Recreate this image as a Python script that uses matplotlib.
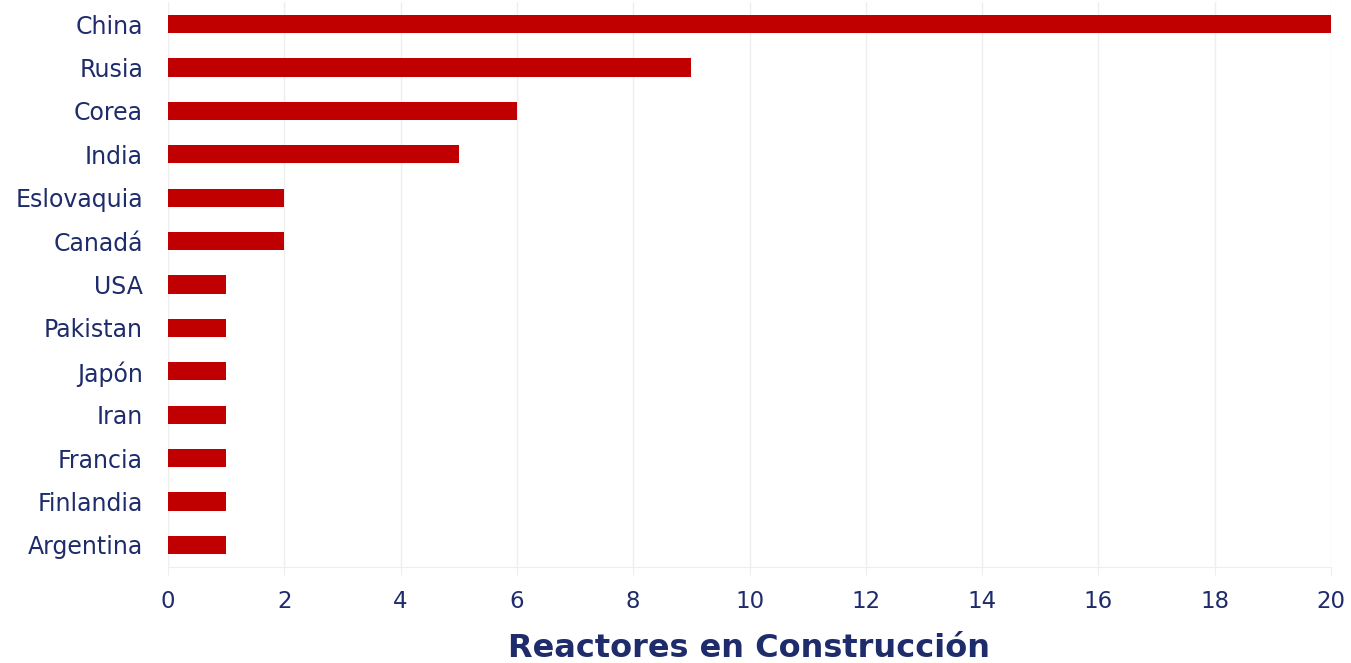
import matplotlib
matplotlib.use("Agg")
import matplotlib.pyplot as plt

countries = ["China", "Rusia", "Corea", "India", "Eslovaquia", "Canadá", "USA",
             "Pakistan", "Japón", "Iran", "Francia", "Finlandia", "Argentina"]
reactors = [20, 9, 6, 5, 2, 2, 1, 1, 1, 1, 1, 1, 1]
xticks = [0, 2, 4, 6, 8, 10, 12, 14, 16, 18, 20]

plt.rcParams['font.family'] = ['DejaVu Sans']
navy = "#1e2c6b"
red = "#c00000"

fig = plt.figure(figsize=(13.51, 6.63), dpi=100)
ax = fig.add_axes([168/1351, 1-566.7/663, (1331-168)/1351, (566.7-2.3)/663])

ypos = list(range(len(countries)))[::-1]
ax.barh(ypos, reactors, height=0.42, color=red, zorder=3)
ax.set_xlim(0, 20)
ax.set_ylim(-0.5, len(countries)-0.5)
ax.set_yticks(ypos)
ax.set_yticklabels(countries, fontsize=17, color=navy)
ax.set_xticks(xticks)
ax.set_xticklabels([str(t) for t in xticks], fontsize=16.5, color=navy)
ax.tick_params(axis='y', length=0, pad=18)
ax.tick_params(axis='x', length=6, color="#eeeeee", pad=11)
ax.grid(axis='x', color="#eeeeee", linewidth=1, zorder=0)
for s in ["top", "right", "left"]:
    ax.spines[s].set_visible(False)
ax.spines["bottom"].set_color("#eeeeee")
ax.set_xlabel("Reactores en Construcción", fontsize=23, fontweight='bold', color=navy, labelpad=14)

fig.savefig("out.png", dpi=100)
